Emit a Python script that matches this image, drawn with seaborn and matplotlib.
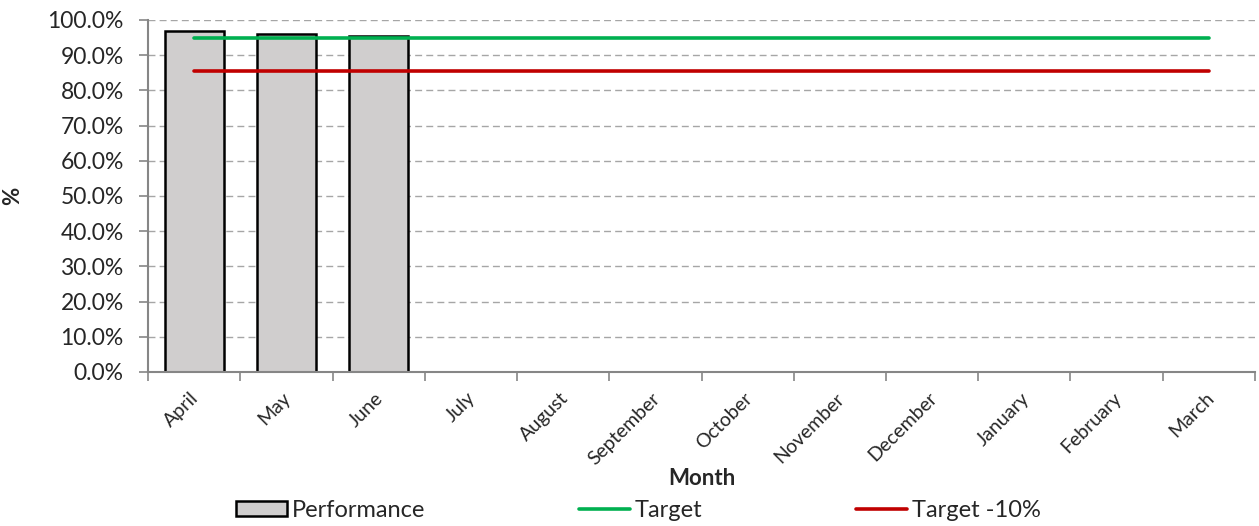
import numpy as np
import pandas as pd
import matplotlib
matplotlib.use("Agg")
import matplotlib.pyplot as plt
import matplotlib.transforms as mtransforms
import seaborn as sns
from matplotlib.patches import Patch
from matplotlib.lines import Line2D

months = ["April", "May", "June", "July", "August", "September", "October",
          "November", "December", "January", "February", "March"]
performance = [97.0, 96.0, 95.5] + [np.nan] * 9
target = [95.0] * 12
target_minus_10 = [85.5] * 12
y_ticks = list(range(0, 101, 10))

sns.set_theme(style="white")
plt.rcParams["font.family"] = ["Lato", "DejaVu Sans"]

fig = plt.figure(figsize=(12.59, 5.26), dpi=100)
ax = fig.add_axes([0.1176, 0.2928, 0.8792, 0.6692])

df = pd.DataFrame({"Month": months, "Performance": performance})
pos = np.arange(len(months))

sns.barplot(data=df, x="Month", y="Performance", order=months, ax=ax,
            color="#d0cece", edgecolor="black", linewidth=1.8, width=0.64,
            saturation=1)
sns.lineplot(x=pos, y=target, ax=ax, color="#00b050", linewidth=2.6)
sns.lineplot(x=pos, y=target_minus_10, ax=ax, color="#c00000", linewidth=2.6)

ax.set_xlim(-0.5, len(months) - 0.5)
ax.set_ylim(0, 100)
ax.set_yticks(y_ticks)
ax.set_yticklabels([f"{v:.1f}%" for v in y_ticks], fontsize=16.5)
ax.yaxis.grid(True, linestyle=(0, (5, 3)), color="#a6a6a6", linewidth=1)
ax.set_axisbelow(True)

# boundary tick marks between categories, labels at the centres
ax.set_xticks(np.arange(-0.5, len(months)), minor=False)
ax.set_xticklabels([""] * (len(months) + 1))
ax.set_xticks(pos, minor=True)
ax.set_xticklabels(months, minor=True, fontsize=14)
ax.tick_params(axis="x", which="major", direction="out", length=6.5,
               width=1.2, color="#868686", bottom=True)
ax.tick_params(axis="x", which="minor", length=0, pad=17, bottom=True)
ax.tick_params(axis="y", direction="out", length=6.5, width=1.2,
               color="#868686", left=True, pad=11)

shift = mtransforms.ScaledTranslation(2 / 100, 0, fig.dpi_scale_trans)
for lab in ax.get_xticklabels(minor=True):
    lab.set_rotation(45)
    lab.set_ha("right")
    lab.set_va("center")
    lab.set_rotation_mode("anchor")
    lab.set_transform(lab.get_transform() + shift)

for side in ["top", "right"]:
    ax.spines[side].set_visible(False)
for side in ["left", "bottom"]:
    ax.spines[side].set_color("#868686")
    ax.spines[side].set_linewidth(1.5)

ax.set_xlabel("Month", fontsize=16, fontweight="bold")
ax.xaxis.set_label_coords(0.5, -0.274)
ax.set_ylabel("%", fontsize=16, fontweight="bold")
ax.yaxis.set_label_coords(-0.113, 0.5)

handles = [
    Patch(facecolor="#d0cece", edgecolor="black", linewidth=1.8, label="Performance"),
    Line2D([], [], color="#00b050", linewidth=2.6, label="Target"),
    Line2D([], [], color="#c00000", linewidth=2.6, label="Target -10%"),
]
fig.legend(handles=handles, loc="center", bbox_to_anchor=(0.507, 0.0304), ncol=3,
           frameon=False, fontsize=17, handlelength=2.16, handleheight=0.6,
           handletextpad=0.21, columnspacing=6.5)

fig.savefig("out.png", dpi=100)
